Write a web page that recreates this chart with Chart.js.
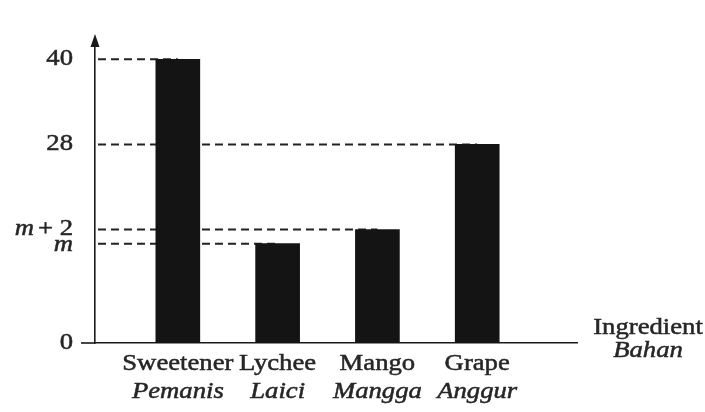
<!DOCTYPE html>
<html>
<head>
<meta charset="utf-8">
<script src="https://cdn.jsdelivr.net/npm/chart.js@4/dist/chart.umd.min.js"></script>
<style>
  body { margin: 0; background: #fff; }
  #wrap { width: 705px; height: 412px; }
</style>
</head>
<body>
<div id="wrap"><canvas id="chart"></canvas></div>
<script>
// data (m is not given, its bars sit around 14 / 16)
const categories = ['Sweetener', 'Lychee', 'Mango', 'Grape'];
const categoriesMalay = ['Pemanis', 'Laici', 'Mangga', 'Anggur'];
const m = 14;
const values = [40, m, m + 2, 28];
const tickValues = [0, m, m + 2, 28, 40];
const tickLabels = ['0', 'm', 'm + 2', '28', '40'];

const ink = '#1a1a1a';
const serif = '"Liberation Serif", "DejaVu Serif", serif';
const stretch = 1.16;

// text in the scan looks a bit stretched sideways and heavier
function stretchedText(ctx, text, x, y, align, font) {
    ctx.save();
    ctx.font = font;
    ctx.textBaseline = 'middle';
    ctx.textAlign = align;
    ctx.translate(x, y);
    ctx.scale(stretch, 1);
    ctx.fillStyle = '#262626';
    ctx.strokeStyle = '#262626';
    ctx.lineWidth = 0.5;
    ctx.fillText(text, 0, 0);
    ctx.strokeText(text, 0, 0);
    ctx.restore();
}

const guideLines = {
    id: 'guideLines',
    beforeDatasetsDraw(chart) {
        const ctx = chart.ctx;
        const xs = chart.scales.x, ys = chart.scales.y;
        const bars = chart.getDatasetMeta(0).data;
        ctx.save();
        ctx.strokeStyle = '#222';
        ctx.lineWidth = 2;
        ctx.setLineDash([8, 5]);
        values.forEach((v, i) => {
            const y = ys.getPixelForValue(v);
            ctx.beginPath();
            ctx.moveTo(xs.left + 3, y);
            ctx.lineTo(bars[i].x, y);
            ctx.stroke();
        });
        ctx.restore();
    },
    afterDraw(chart) {
        const ctx = chart.ctx;
        const xs = chart.scales.x, ys = chart.scales.y;
        const area = chart.chartArea;
        ctx.save();
        ctx.fillStyle = ink;
        ctx.strokeStyle = ink;

        // arrow head on the y axis
        ctx.beginPath();
        ctx.moveTo(xs.left, area.top - 4);
        ctx.lineTo(xs.left - 4.5, area.top + 9);
        ctx.lineTo(xs.left + 4.5, area.top + 9);
        ctx.closePath();
        ctx.fill();

        // x axis runs a little past the y axis
        ctx.lineWidth = 1.6;
        ctx.beginPath();
        ctx.moveTo(xs.left - 14, area.bottom);
        ctx.lineTo(xs.left, area.bottom);
        ctx.stroke();

        // y tick labels
        const font = '23px ' + serif;
        const italic = 'italic 23px ' + serif;
        tickValues.forEach((v, i) => {
            const y = ys.getPixelForValue(v);
            const lbl = tickLabels[i];
            const right = xs.left - 22;
            if (lbl === 'm') {
                stretchedText(ctx, 'm', right, y + 1, 'right', italic);
            } else if (lbl === 'm + 2') {
                stretchedText(ctx, '+ 2', right, y - 1, 'right', font);
                ctx.font = font;
                const w = ctx.measureText('+ 2').width * stretch;
                stretchedText(ctx, 'm', right - w - 4, y - 1, 'right', italic);
            } else {
                stretchedText(ctx, lbl, right, y, 'right', font);
            }
        });

        // category labels, English over Malay
        categories.forEach((c, i) => {
            const x = xs.getPixelForValue(i);
            stretchedText(ctx, c, x, area.bottom + 21, 'center', font);
            stretchedText(ctx, categoriesMalay[i], x, area.bottom + 49, 'center', italic);
        });

        // axis title at the end of the x axis
        stretchedText(ctx, 'Ingredient', 648, area.bottom - 15, 'center', font);
        stretchedText(ctx, 'Bahan', 648, area.bottom + 8, 'center', italic);
        ctx.restore();
    }
};

new Chart(document.getElementById('chart'), {
    type: 'bar',
    data: {
        datasets: [{
            data: categories.map((c, i) => ({ x: i, y: values[i] })),
            backgroundColor: '#141414',
            barThickness: 44
        }]
    },
    options: {
        responsive: true,
        maintainAspectRatio: false,
        animation: false,
        layout: { padding: { left: 87, right: 128, top: 38, bottom: 61 } },
        plugins: { legend: { display: false }, tooltip: { enabled: false } },
        scales: {
            x: {
                type: 'linear',
                offset: false,
                min: -0.83,
                max: 4,
                grid: { display: false },
                ticks: { display: false },
                border: { color: ink, width: 1.6 }
            },
            y: {
                min: 0,
                max: 43,
                grid: { display: false },
                ticks: { display: false },
                border: { color: ink, width: 1.6 }
            }
        }
    },
    plugins: [guideLines]
});
</script>
</body>
</html>
